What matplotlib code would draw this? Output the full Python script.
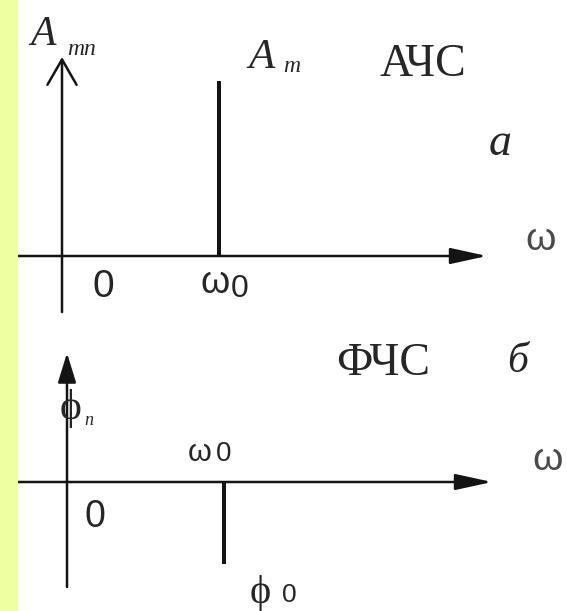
import matplotlib
matplotlib.use("Agg")
import matplotlib.pyplot as plt
from matplotlib.patches import Rectangle

W, H = 567, 611
DPI = 100

# single harmonic: its frequency, amplitude and initial phase
omega = [1.0]        # ω0
amplitude = [1.0]    # A_m
phase = [-0.47]      # φ0

INK = "#141414"
TXT = "#262626"
SERIF = ["Liberation Serif", "DejaVu Serif"]
SANS = ["Liberation Sans", "DejaVu Sans"]

SX = 157.0   # pixels per unit of frequency
SY = 175.0   # pixels per unit on the vertical axes

fig = plt.figure(figsize=(W / DPI, H / DPI), dpi=DPI)
fig.patch.set_facecolor("white")
fig.patches.append(Rectangle((0, 0), 18 / W, 1, transform=fig.transFigure,
                             facecolor="#eeffa2", edgecolor="none", zorder=0))


def fpx(x, y):
    return x / W, 1 - y / H


def make_axes(top, bottom, ox, oy):
    ax = fig.add_axes([18 / W, 1 - bottom / H, (W - 18) / W, (bottom - top) / H])
    ax.set_xlim((18 - ox) / SX, (W - ox) / SX)
    ax.set_ylim((oy - bottom) / SY, (oy - top) / SY)
    ax.axis("off")
    return ax


def arrow(ax, start, end, style):
    ax.annotate("", xy=end, xytext=start,
                arrowprops=dict(arrowstyle=style, mutation_scale=14, lw=1.8,
                                color=INK, shrinkA=0, shrinkB=0))


def label(ax, xy, dx, dy, s, size, family, style="normal", va="baseline", color=TXT):
    ax.annotate(s, xy=xy, xytext=(dx, dy), textcoords="offset pixels",
                ha="center", va=va, fontsize=size, family=family,
                style=style, color=color, annotation_clip=False)


def ftext(x, y, s, size, family, style="normal", va="baseline", color=TXT):
    fig.text(*fpx(x, y), s, ha="center", va=va, fontsize=size,
             family=family, style=style, color=color)


# ---------- amplitude spectrum (АЧС) ----------
ax1 = make_axes(0, 320, 62, 256)
arrow(ax1, ((18 - 62) / SX, 0), ((487 - 62) / SX, 0), "-|>,head_length=1.6,head_width=0.35")
arrow(ax1, (0, (256 - 312) / SY), (0, (256 - 57) / SY), "->,head_length=1.3,head_width=0.75")
ax1.vlines(omega, 0, amplitude, color=INK, lw=2.9)

for w, a in zip(omega, amplitude):
    label(ax1, (w, a), 42, 13, "A", 31, SERIF, style="italic")
    label(ax1, (w, a), 73, 9, "m", 17, SERIF, style="italic")
    label(ax1, (w, 0), -4, -37, "ω", 27, SANS)
    label(ax1, (w, 0), 21, -41, "0", 23, SANS)

ftext(43, 45, "A", 30, SERIF, style="italic")
ftext(82, 55, "mn", 17, SERIF, style="italic")
ftext(103, 297, "0", 28, SANS)
ftext(423, 76, "АЧС", 33, SERIF)
ftext(500, 155, "а", 33, SERIF, style="italic")
ftext(541, 250, "ω", 28, SANS, color="#4a4a4a")

# ---------- phase spectrum (ФЧС) ----------
ax2 = make_axes(320, H, 67, 482)
arrow(ax2, ((18 - 67) / SX, 0), ((492 - 67) / SX, 0), "-|>,head_length=1.6,head_width=0.35")
arrow(ax2, (0, (482 - 587) / SY), (0, (482 - 353) / SY), "-|>,head_length=1.3,head_width=0.4")
ax2.vlines(omega, 0, phase, color=INK, lw=2.9)

for w, p in zip(omega, phase):
    label(ax2, (w, 0), -24, 21, "ω", 22, SANS)
    label(ax2, (w, 0), 0, 21, "0", 20, SANS)
    label(ax2, (w, p), 36, -29, "ϕ", 29, SERIF, va="center")
    label(ax2, (w, p), 65, -31, "0", 19, SANS, va="center")

ftext(71, 408, "ϕ", 30, SERIF, va="center")
ftext(89, 425, "n", 13, SERIF, style="italic")
ftext(95, 527, "0", 27, SANS)
ftext(383, 375, "ФЧС", 33, SERIF)
ftext(518, 372, "б", 30, SERIF, style="italic")
ftext(548, 470, "ω", 28, SANS, color="#4a4a4a")

fig.savefig("out.png", dpi=DPI, facecolor=fig.get_facecolor())
